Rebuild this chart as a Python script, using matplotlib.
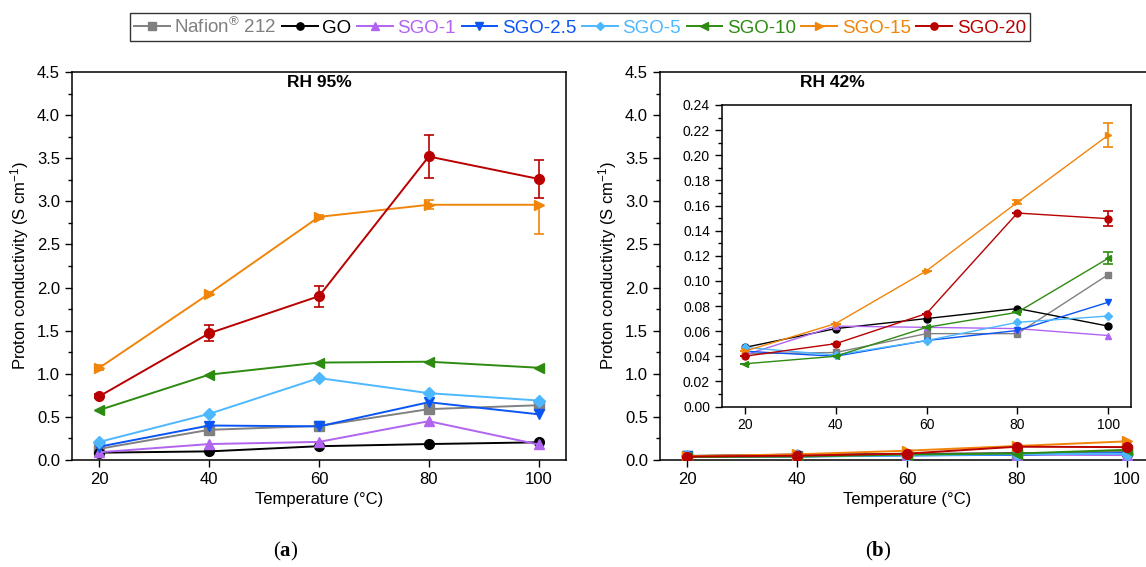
import matplotlib
matplotlib.use("Agg")
import matplotlib.pyplot as plt
import numpy as np
from matplotlib.ticker import MultipleLocator, FormatStrFormatter

plt.rcParams['font.family'] = ['Liberation Sans', 'DejaVu Sans']
plt.rcParams['mathtext.fontset'] = 'custom'
plt.rcParams['mathtext.rm'] = 'Liberation Sans'
plt.rcParams['mathtext.it'] = 'Liberation Sans:italic'
plt.rcParams['mathtext.bf'] = 'Liberation Serif:bold'

# ---------------- data ----------------
temps = [20, 40, 60, 80, 100]
names = ["Nafion$^{®}$ 212", "GO", "SGO-1", "SGO-2.5", "SGO-5", "SGO-10", "SGO-15", "SGO-20"]
colors = ["#808080", "#000000", "#B064F0", "#0A55F5", "#4DB8FF", "#2E8B12", "#F0850A", "#B80000"]
markers = ["s", "o", "^", "v", "D", "<", ">", "o"]

# RH 95 %
rh95_nafion = [0.13, 0.35, 0.395, 0.59, 0.635]
rh95_go     = [0.085, 0.10, 0.16, 0.185, 0.205]
rh95_sgo1   = [0.09, 0.185, 0.21, 0.45, 0.18]
rh95_sgo25  = [0.155, 0.40, 0.39, 0.67, 0.53]
rh95_sgo5   = [0.21, 0.535, 0.95, 0.775, 0.69]
rh95_sgo10  = [0.58, 0.99, 1.13, 1.14, 1.07]
rh95_sgo15  = [1.07, 1.93, 2.82, 2.96, 2.96]
rh95_sgo20  = [0.74, 1.47, 1.90, 3.52, 3.26]
rh95_sgo15_err_lo = [0.03, 0.02, 0.02, 0.05, 0.34]
rh95_sgo15_err_hi = [0.03, 0.02, 0.02, 0.05, 0.0]
rh95_sgo20_err = [0.02, 0.095, 0.12, 0.25, 0.22]

# RH 42 %
rh42_nafion = [0.042, 0.043, 0.058, 0.058, 0.105]
rh42_go     = [0.047, 0.062, 0.070, 0.078, 0.064]
rh42_sgo1   = [0.041, 0.064, 0.063, 0.062, 0.0565]
rh42_sgo25  = [0.044, 0.040, 0.0525, 0.0605, 0.083]
rh42_sgo5   = [0.047, 0.041, 0.0525, 0.067, 0.072]
rh42_sgo10  = [0.034, 0.040, 0.063, 0.075, 0.118]
rh42_sgo15  = [0.044, 0.066, 0.108, 0.1625, 0.216]
rh42_sgo20  = [0.040, 0.050, 0.074, 0.154, 0.1495]
rh42_sgo10_err = [0.0, 0.0, 0.0, 0.0, 0.0046]
rh42_sgo15_err = [0.0, 0.0, 0.0, 0.0015, 0.0098]
rh42_sgo20_err = [0.0, 0.0, 0.0, 0.0, 0.006]

rh95 = [rh95_nafion, rh95_go, rh95_sgo1, rh95_sgo25, rh95_sgo5, rh95_sgo10, rh95_sgo15, rh95_sgo20]
rh42 = [rh42_nafion, rh42_go, rh42_sgo1, rh42_sgo25, rh42_sgo5, rh42_sgo10, rh42_sgo15, rh42_sgo20]
rh95_err = [None, None, None, None, None, None,
            [rh95_sgo15_err_lo, rh95_sgo15_err_hi], rh95_sgo20_err]
rh42_err = [None, None, None, None, None, rh42_sgo10_err, rh42_sgo15_err, rh42_sgo20_err]

# ---------------- figure ----------------
W, H = 1146, 567
fig = plt.figure(figsize=(W / 100, H / 100), dpi=100)

def px_axes(x0, y0, x1, y1):
    return fig.add_axes([x0 / W, 1 - y1 / H, (x1 - x0) / W, (y1 - y0) / H])

ax_a = px_axes(72, 72, 566, 460)
ax_b = px_axes(660, 72, 1154, 460)
ax_in = px_axes(722, 105, 1131, 406.5)

FS = 12

def style(ax, ymax, ymaj, ymin, fmt, fs=FS):
    ax.set_xlim(15, 105)
    ax.set_ylim(0, ymax)
    ax.xaxis.set_major_locator(MultipleLocator(20))
    ax.yaxis.set_major_locator(MultipleLocator(ymaj))
    ax.yaxis.set_minor_locator(MultipleLocator(ymin))
    ax.yaxis.set_major_formatter(FormatStrFormatter(fmt))
    ax.tick_params(axis='both', which='major', direction='out', length=5, width=1,
                   labelsize=fs, pad=3.6)
    ax.tick_params(axis='y', which='minor', direction='out', length=3, width=1)
    ax.tick_params(top=False, right=False)
    for s in ax.spines.values():
        s.set_linewidth(1.1)

def draw(ax, data, errs, ms, lw):
    hs = []
    for i, (vals, c, m) in enumerate(zip(data, colors, markers)):
        mss = ms - 1 if m == 'D' else ms
        h, = ax.plot(temps, vals, color=c, marker=m, ms=mss, lw=lw, zorder=3 + i)
        if errs[i] is not None:
            ax.errorbar(temps, vals, yerr=errs[i], fmt='none', ecolor=c, elinewidth=1.2,
                        capsize=3.5, capthick=1.2, zorder=3 + i)
        hs.append(h)
    return hs

handles = draw(ax_a, rh95, rh95_err, 7, 1.4)
draw(ax_b, rh42, [None] * 8, 7, 1.4)
draw(ax_in, rh42, rh42_err, 5, 1.0)

style(ax_a, 4.5, 0.5, 0.25, '%.1f')
style(ax_b, 4.5, 0.5, 0.25, '%.1f')
style(ax_in, 0.24, 0.02, 0.01, '%.2f', fs=10)

for ax in (ax_a, ax_b):
    ax.set_xlabel("Temperature (°C)", fontsize=FS, labelpad=3.5)
    ax.set_ylabel("Proton conductivity (S cm$^{-1}$)", fontsize=FS, labelpad=4)

ax_a.text(0.5, 0.972, "RH 95%", transform=ax_a.transAxes, ha='center', va='center',
          fontsize=12.5, fontweight='bold')
ax_b.text(0.348, 0.972, "RH 42%", transform=ax_b.transAxes, ha='center', va='center',
          fontsize=12.5, fontweight='bold')

fig.text(286 / W, 1 - 551 / H, r"($\mathbf{a}$)", family='Liberation Serif', fontsize=15,
         ha='center', va='center')
fig.text(878 / W, 1 - 551 / H, r"($\mathbf{b}$)", family='Liberation Serif', fontsize=15,
         ha='center', va='center')

leg = fig.legend(handles, names, loc='center', bbox_to_anchor=(580 / W, 1 - 27 / H),
                 ncol=8, fontsize=13.5, frameon=True, fancybox=False, edgecolor='black',
                 handlelength=1.9, handletextpad=0.25, columnspacing=0.3, borderpad=0.2,
                 markerscale=0.75, borderaxespad=0)
leg.get_frame().set_linewidth(1.0)
for t, c in zip(leg.get_texts(), colors):
    t.set_color(c)

fig.savefig("out.png", dpi=100)
